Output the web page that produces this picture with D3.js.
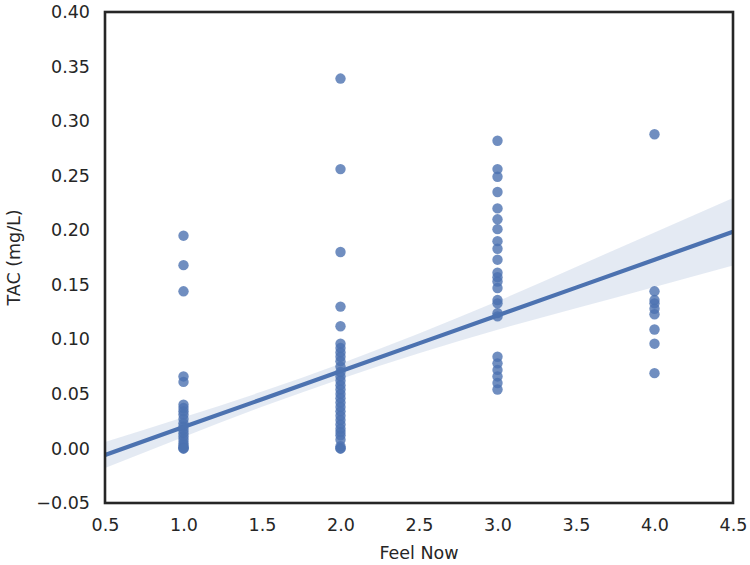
<!DOCTYPE html>
<html><head><meta charset="utf-8">
<script src="https://cdn.jsdelivr.net/npm/d3@7"></script>
<style>body{margin:0;background:#fff}svg{display:block}text{font-family:"DejaVu Sans",sans-serif;fill:#262626}</style>
</head><body><svg id="c" width="750" height="565"></svg>
<script>
const feel1 = [0.195,0.168,0.144,0.066,0.061,0.040,0.037,0.034,0.031,0.027,0.023,0.020,0.017,0.014,0.011,0.008,0.005,0.003,0.001,0.0,0.0];
const feel2 = [0.339,0.256,0.180,0.130,0.112,0.096,0.092,0.088,0.084,0.080,0.075,0.070,0.066,0.062,0.058,0.054,0.050,0.046,0.042,0.038,0.034,0.030,0.026,0.022,0.018,0.015,0.012,0.008,0.002,0.0,0.0];
const feel3 = [0.282,0.256,0.249,0.235,0.220,0.210,0.201,0.190,0.183,0.173,0.161,0.157,0.153,0.147,0.136,0.133,0.124,0.121,0.084,0.078,0.072,0.066,0.060,0.054];
const feel4 = [0.288,0.144,0.136,0.133,0.128,0.123,0.109,0.096,0.069];
const feelLevels = [1,2,3,4];
// regression line and its 95% confidence band
const fitX  = [0.5,1.0,1.5,2.0,2.5,3.0,3.5,4.0,4.5];
const fitY  = [-0.0060,0.0196,0.0451,0.0707,0.0963,0.1218,0.1474,0.1730,0.1986];
const fitLo = [-0.0180,0.0106,0.0381,0.0637,0.0873,0.1088,0.1284,0.1480,0.1676];
const fitHi = [0.0060,0.0286,0.0521,0.0777,0.1053,0.1348,0.1664,0.1980,0.2296];
const xTicks = [0.5,1.0,1.5,2.0,2.5,3.0,3.5,4.0,4.5];
const yTicks = [-0.05,0,0.05,0.10,0.15,0.20,0.25,0.30,0.35,0.40];

const groups = [feel1,feel2,feel3,feel4];
const pts = [];
groups.forEach((g,i)=>g.forEach(v=>pts.push({x:feelLevels[i],y:v})));
const band = fitX.map((v,i)=>({x:v,y:fitY[i],lo:fitLo[i],hi:fitHi[i]}));

const L=105,R=733,T=12,B=503;
const x=d3.scaleLinear().domain([0.5,4.5]).range([L,R]);
const y=d3.scaleLinear().domain([-0.05,0.40]).range([B,T]);
const svg=d3.select("#c");
const col="#4c72b0";

svg.append("defs").append("clipPath").attr("id","clip").append("rect").attr("x",L).attr("y",T).attr("width",R-L).attr("height",B-T);
const g=svg.append("g").attr("clip-path","url(#clip)");
g.selectAll("circle").data(pts).join("circle").attr("cx",d=>x(d.x)).attr("cy",d=>y(d.y)).attr("r",5.2).attr("fill",col).attr("fill-opacity",0.8);
g.append("path").datum(band).attr("d",d3.area().curve(d3.curveMonotoneX).x(d=>x(d.x)).y0(d=>y(d.lo)).y1(d=>y(d.hi))).attr("fill",col).attr("fill-opacity",0.15);
g.append("path").datum(band).attr("d",d3.line().x(d=>x(d.x)).y(d=>y(d.y))).attr("stroke",col).attr("stroke-width",4.2).attr("fill","none");

const xa=svg.append("g").attr("transform",`translate(0,${B})`).call(d3.axisBottom(x).tickValues(xTicks).tickFormat(d3.format(".1f")).tickSize(0).tickPadding(16));
const ya=svg.append("g").attr("transform",`translate(${L},0)`).call(d3.axisLeft(y).tickValues(yTicks).tickFormat(v=>d3.format(".2f")(v).replace("-","\u2212")).tickSize(0).tickPadding(15));
[xa,ya].forEach(a=>{a.select(".domain").remove();a.selectAll("text").attr("font-size",17.5).attr("fill","#262626").attr("font-family","DejaVu Sans");});
svg.append("rect").attr("x",L).attr("y",T).attr("width",R-L).attr("height",B-T).attr("fill","none").attr("stroke","#262626").attr("stroke-width",2.6);

svg.append("text").attr("x",(L+R)/2).attr("y",559).attr("text-anchor","middle").attr("font-size",17.5).text("Feel Now");
svg.append("text").attr("transform",`translate(20,${(T+B)/2}) rotate(-90)`).attr("text-anchor","middle").attr("font-size",17.5).text("TAC (mg/L)");
</script></body></html>
